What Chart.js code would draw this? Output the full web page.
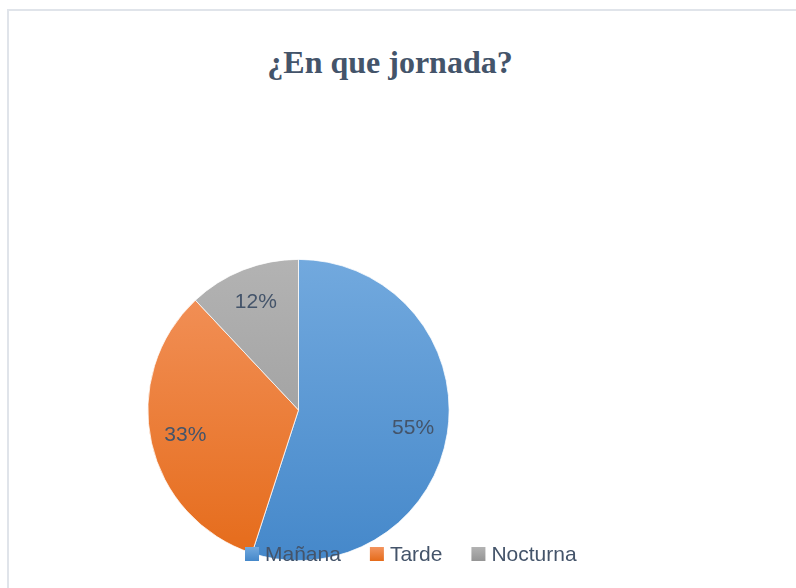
<!DOCTYPE html>
<html>
<head>
<meta charset="utf-8">
<script src="https://cdn.jsdelivr.net/npm/chart.js@4/dist/chart.umd.min.js"></script>
<style>
  body { margin: 0; background: #fff; }
  #wrap { position: relative; width: 796px; height: 588px; overflow: hidden; }
  #frame {
    position: absolute; left: 7px; top: 9px; width: 900px; height: 700px;
    border: 2px solid #e0e4ea;
  }
  #title {
    position: absolute; left: 0; top: 43px; width: 780px; text-align: center;
    font: bold 32px "Liberation Serif", "Times New Roman", serif; line-height: 38px;
    color: #44546a;
  }
  canvas { position: absolute; left: 0; top: 0; }
</style>
</head>
<body>
<div id="wrap">
  <div id="frame"></div>
  <div id="title">¿En que jornada?</div>
  <canvas id="chart" width="796" height="588"></canvas>
</div>
<script>
// ----- DATA -----
const categories = ["Mañana", "Tarde", "Nocturna"];
const percentages = [55, 33, 12];

// top / bottom colours of each slice gradient
const topColors = ["#72a9de", "#f3945e", "#b3b3b3"];
const bottomColors = ["#4588ca", "#e56b1a", "#959595"];

const textColor = "#44546a";
const labelFont = '21px "Liberation Sans", Arial, sans-serif';

function sliceFill(context) {
    const chart = context.chart;
    const area = chart.chartArea;
    const i = context.dataIndex;
    if (!area) return bottomColors[i];
    const g = chart.ctx.createLinearGradient(0, area.top, 0, area.bottom);
    g.addColorStop(0, topColors[i]);
    g.addColorStop(1, bottomColors[i]);
    return g;
}

// ----- PERCENT LABELS INSIDE SLICES -----
const sliceLabels = {
    id: "sliceLabels",
    afterDatasetsDraw(chart) {
        const ctx = chart.ctx;
        const meta = chart.getDatasetMeta(0);
        ctx.save();
        ctx.font = labelFont;
        ctx.fillStyle = textColor;
        ctx.textAlign = "center";
        ctx.textBaseline = "middle";
        meta.data.forEach((arc, i) => {
            const p = arc.getProps(["x", "y", "startAngle", "endAngle", "outerRadius"], true);
            const mid = (p.startAngle + p.endAngle) / 2;
            const r = p.outerRadius * 0.77;
            ctx.fillText(percentages[i] + "%", p.x + Math.cos(mid) * r, p.y + Math.sin(mid) * r);
        });
        ctx.restore();
    }
};

// ----- LEGEND (drawn over the pie, like the original) -----
const overLegend = {
    id: "overLegend",
    afterDatasetsDraw(chart) {
        const ctx = chart.ctx;
        const box = 14;
        const y = 554;
        let x = 245;
        ctx.save();
        ctx.font = labelFont;
        ctx.textBaseline = "middle";
        ctx.textAlign = "left";
        categories.forEach((name, i) => {
            const g = ctx.createLinearGradient(0, y - box / 2, 0, y + box / 2);
            g.addColorStop(0, topColors[i]);
            g.addColorStop(1, bottomColors[i]);
            ctx.fillStyle = g;
            ctx.fillRect(x, y - box / 2, box, box);
            ctx.fillStyle = textColor;
            ctx.fillText(name, x + box + 6, y + 1);
            x += box + 6 + ctx.measureText(name).width + 29;
        });
        ctx.restore();
    }
};

new Chart(document.getElementById("chart"), {
    type: "pie",
    data: {
        labels: categories,
        datasets: [{
            data: percentages,
            backgroundColor: sliceFill,
            borderColor: "#ffffff",
            borderWidth: 0.75
        }]
    },
    options: {
        responsive: false,
        animation: false,
        layout: { padding: { top: 259, bottom: 27, left: 147, right: 346 } },
        plugins: {
            legend: { display: false },
            title: { display: false },
            tooltip: { enabled: false }
        }
    },
    plugins: [sliceLabels, overLegend]
});
</script>
</body>
</html>
